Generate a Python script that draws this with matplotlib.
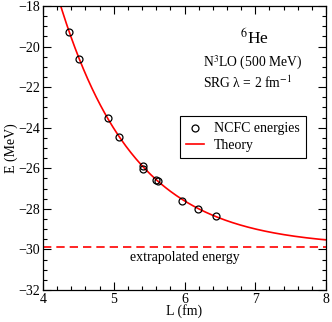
import numpy as np
import matplotlib
matplotlib.use("Agg")
import matplotlib.pyplot as plt
from matplotlib.ticker import MultipleLocator

plt.rcParams['font.family'] = ['Liberation Serif', 'DejaVu Serif']
plt.rcParams['mathtext.fontset'] = 'stix'

# NCFC energies
L_fm = [4.37, 4.505, 4.92, 5.075, 5.407, 5.417, 5.595, 5.631, 5.968, 6.19, 6.45]
E_MeV = [-19.27, -20.61, -23.53, -24.45, -25.88, -26.04, -26.57, -26.61, -27.60, -28.03, -28.33]

# Theory fit: E(L) = E_inf + a * exp(-2 k L)
E_inf = -29.87
a_fit = 664.7
two_k = 0.947

fig = plt.figure(figsize=(3.32, 3.22), dpi=100)
ax = fig.add_axes([0.1295, 0.0994, 0.982 - 0.1295, 0.9814 - 0.0994])

Lc = np.linspace(4.0, 8.0, 400)
pts, = ax.plot(L_fm, E_MeV, 'o', mfc='none', mec='black', ms=5, mew=0.9, label='NCFC energies', zorder=3)
th, = ax.plot(Lc, E_inf + a_fit * np.exp(-two_k * Lc), color='red', lw=1.2, label='Theory', zorder=2)
ax.axhline(E_inf, color='red', lw=1.2, ls=(0, (5, 3)), zorder=2)

ax.set_xlim(4, 8)
ax.set_ylim(-32, -18)
ax.xaxis.set_major_locator(MultipleLocator(1))
ax.xaxis.set_minor_locator(MultipleLocator(0.2))
ax.yaxis.set_major_locator(MultipleLocator(2))
ax.yaxis.set_minor_locator(MultipleLocator(0.5))
ax.tick_params(which='both', direction='in', top=True, right=True, labelsize=10, width=0.8)
ax.tick_params(which='major', length=6, pad=2)
ax.tick_params(which='minor', length=3)
for s in ax.spines.values():
    s.set_linewidth(0.9)

ax.set_xlabel('L (fm)', fontsize=10, labelpad=-1)
ax.set_ylabel('E (MeV)', fontsize=10, labelpad=0)

ax.text(0.746, 0.887, r'$^{6}$He', transform=ax.transAxes, ha='center', va='center', fontsize=12.5)
ax.text(0.742, 0.800, r'N$^{3}$LO (500 MeV)', transform=ax.transAxes, ha='center', va='center', fontsize=9.8)
ax.text(0.721, 0.728, r'SRG λ = 2 fm$^{-1}$', transform=ax.transAxes, ha='center', va='center', fontsize=9.8)
ax.text(0.50, 0.113, 'extrapolated energy', transform=ax.transAxes, ha='center', va='center', fontsize=10)

leg = ax.legend(handles=[pts, th], loc='upper right', bbox_to_anchor=(0.93, 0.612), fontsize=10,
                frameon=True, fancybox=False, edgecolor='black', framealpha=1, handlelength=1.3,
                handletextpad=0.7, borderpad=0.45, labelspacing=0.25, borderaxespad=0)
leg.get_frame().set_linewidth(0.8)

fig.savefig('out.png', dpi=100)
